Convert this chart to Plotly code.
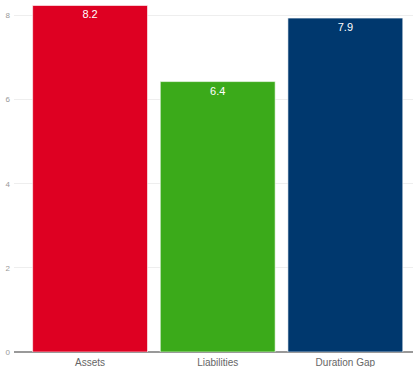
import plotly.graph_objects as go

categories = ["Assets", "Liabilities", "Duration Gap"]
values = [8.24, 6.43, 7.94]
colors = ["#DE0022", "#3BAA1A", "#00386E"]
labels = ["8.2", "6.4", "7.9"]

fig = go.Figure(go.Bar(
    x=categories, y=values,
    marker=dict(color=colors, line=dict(color="rgba(255,255,255,0.6)", width=1)),
    text=labels, textposition="inside", insidetextanchor="end",
    textfont=dict(color="white", size=11, family="Liberation Sans, Arial"),
    width=0.9,
))
fig.update_layout(
    width=414, height=367,
    margin=dict(l=14, r=1, t=0, b=15),
    paper_bgcolor="white", plot_bgcolor="white",
    showlegend=False,
    font=dict(family="Liberation Sans, Arial", size=10, color="#666"),
    xaxis=dict(range=[-0.596, 2.53], showgrid=False, ticks="", tickfont=dict(size=10, color="#666"),
               showline=False, ticklabelstandoff=3),
    yaxis=dict(range=[0, 8.37], dtick=2, showgrid=True, gridcolor="#EEEEEE", gridwidth=1,
               zeroline=True, zerolinecolor="#999999", zerolinewidth=2,
               tickfont=dict(size=8, color="#999"), ticks="", ticklabelstandoff=3),
)
fig.write_html("out.html")
